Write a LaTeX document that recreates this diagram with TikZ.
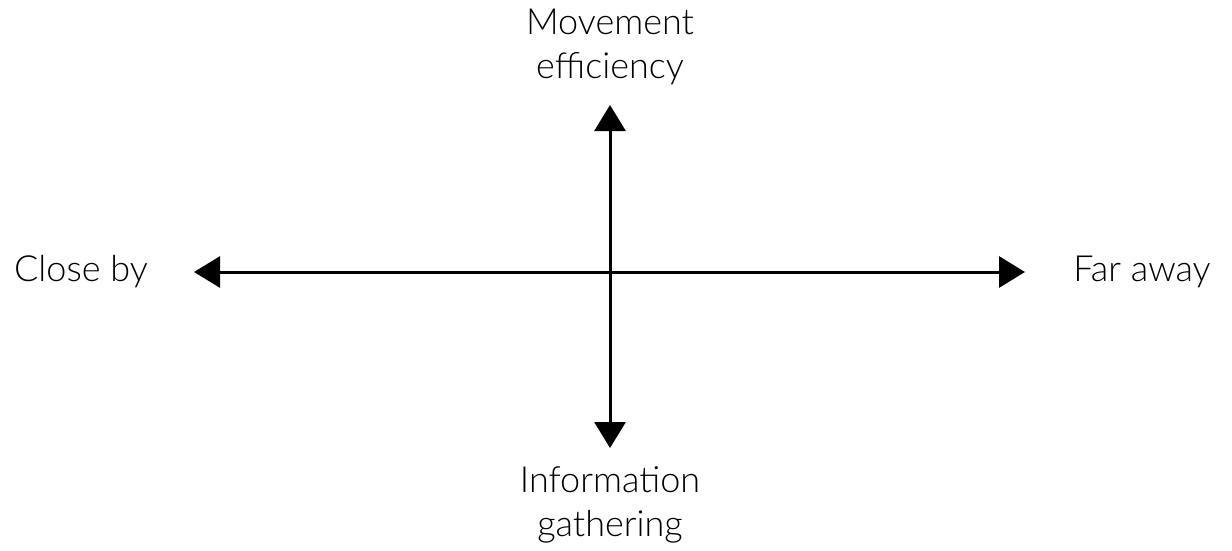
\documentclass[tikz,border=0pt]{standalone}
\usepackage{fontspec}
\setmainfont{Lato Light}
\usetikzlibrary{arrows.meta}
\begin{document}
\begin{tikzpicture}[x=1pt,y=-1pt,
  axis/.style={line width=3pt,{Triangle[length=26pt,width=31pt]}-{Triangle[length=26pt,width=31pt]}},
  lbl/.style={font=\fontsize{36}{44}\selectfont,align=center,inner sep=0pt}]
\useasboundingbox (0,0) rectangle (1232,550);
\coordinate (L) at (194,272);
\coordinate (R) at (1025,272);
\coordinate (T) at (610,105);
\coordinate (B) at (610,448);
\draw[axis] (L) -- (R);
\draw[axis] (T) -- (B);
\node[lbl] (top) at (610,47) {Movement\\efficiency};
\node[lbl] (bot) at (610,505) {Information\\gathering};
\node[lbl] (left) at (81,272) {Close by};
\node[lbl] (right) at (1142,272) {Far away};
\end{tikzpicture}
\end{document}
